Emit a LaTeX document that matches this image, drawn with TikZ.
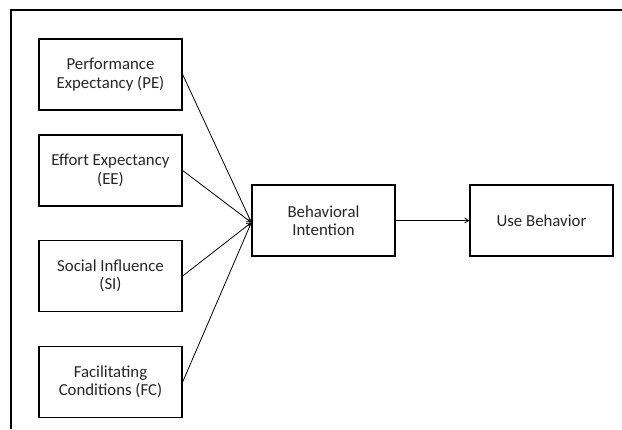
\documentclass[tikz,border=0pt]{standalone}
\usepackage{fontspec}
\setmainfont{Carlito}
\usetikzlibrary{arrows.meta}
\begin{document}
\begin{tikzpicture}[x=1pt,y=-1pt,
 box/.style={draw, line width=1.3pt, minimum width=143pt, minimum height=71pt, align=center,
   font=\fontsize{16.8}{18.5}\selectfont, text=black!85, inner sep=0pt},
 conn/.style={line width=0.8pt, -{Straight Barb[length=4pt,width=5pt]}}]
\useasboundingbox (0,0) rectangle (622,429);
\fill[white] (0,0) rectangle (622,429);
\draw[line width=1.3pt] (11,429) -- (11,10) -- (622,10);
\node[box] (pe) at (110.5,74.5) {Performance\\Expectancy (PE)};
\node[box] (ee) at (110.5,170.5) {Effort Expectancy\\(EE)};
\node[box] (si) at (110.5,276) {Social Influence\\(SI)};
\node[box] (fc) at (110.5,382) {Facilitating\\Conditions (FC)};
\node[box] (bi) at (323.5,220.5) {Behavioral\\Intention};
\node[box] (ub) at (541.5,220.5) {Use Behavior};
\coordinate (tip) at ([yshift=-2pt]bi.west);
\draw[conn] (pe.east) -- (tip);
\draw[conn] (ee.east) -- (tip);
\draw[conn] (si.east) -- (tip);
\draw[conn] (fc.east) -- (tip);
\draw[conn] (bi.east) -- (ub.west);
\end{tikzpicture}
\end{document}
